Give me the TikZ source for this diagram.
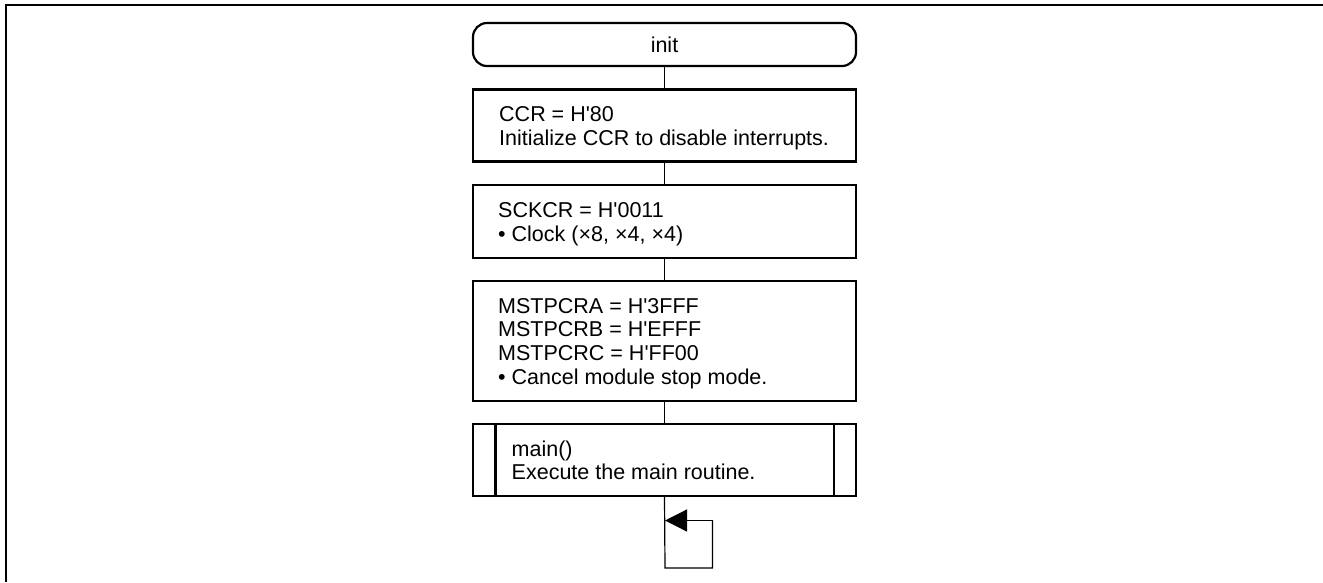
\documentclass[tikz,border=0pt]{standalone}
\usepackage{fontspec}
\setmainfont{Liberation Sans}
\usetikzlibrary{arrows.meta,calc}
\newcommand{\aps}{\textquotesingle}
\begin{document}
\begin{tikzpicture}[x=1pt,y=-1pt,
  every node/.style={font=\fontsize{21.5}{23.6}\selectfont},
  box/.style={draw,line width=2.2pt,minimum width=383pt,inner sep=0pt,anchor=center},
  term/.style={draw,line width=2.2pt,rounded corners=14pt,minimum width=383pt,minimum height=43pt,inner sep=0pt},
  txt/.style={inner sep=0pt,anchor=base west},
  conn/.style={line width=1.2pt},
  frame/.style={line width=2pt}]
\useasboundingbox (0,0) rectangle (1323,582);
\draw[frame] (6,582) -- (6,5) -- (1323,5);
% nodes
\node[term] (init) at (664.5,44.5) {init};
\node[box,minimum height=72pt] (b1) at (664.5,125.5) {};
\node[box,minimum height=73pt] (b2) at (664.5,221.5) {};
\node[box,minimum height=120pt] (b3) at (664.5,341) {};
\node[box,minimum height=72pt] (b4) at (664.5,460) {};
\draw[line width=2.2pt] ([xshift=23.5pt]b4.north west) -- ([xshift=23.5pt]b4.south west);
\draw[line width=2.2pt] ([xshift=-23.5pt]b4.north east) -- ([xshift=-23.5pt]b4.south east);
% texts
\node[txt] (t1) at (499,121.5) {\vtop{\hbox{CCR = H\aps80}\hbox{Initialize CCR to disable interrupts.}}};
\node[txt] (t2) at (498,217.5) {\vtop{\hbox{SCKCR = H\aps0011}\hbox{• Clock (×8, ×4, ×4)}}};
\node[txt] (t3) at (498,313.2) {\vtop{\hbox{MSTPCRA = H\aps3FFF}\hbox{MSTPCRB = H\aps EFFF}\hbox{MSTPCRC = H\aps FF00}\hbox{• Cancel module stop mode.}}};
\node[txt] (t4) at (511.5,456) {\vtop{\hbox{main()}\hbox{Execute the main routine.}}};
% connectors
\draw[conn] (init.south) -- (b1.north);
\draw[conn] (b1.south) -- (b2.north);
\draw[conn] (b2.south) -- (b3.north);
\draw[conn] (b3.south) -- (b4.north);
\coordinate (l1) at (665,568);
\coordinate (l2) at (712.5,568);
\coordinate (l3) at (712.5,520.5);
\coordinate (l4) at (665,520.5);
\draw[conn] (b4.south) -- (l1) -- (l2) -- (l3);
\draw[conn,-{Triangle[length=22pt,width=22pt]}] (l3) -- (l4);
\end{tikzpicture}
\end{document}
